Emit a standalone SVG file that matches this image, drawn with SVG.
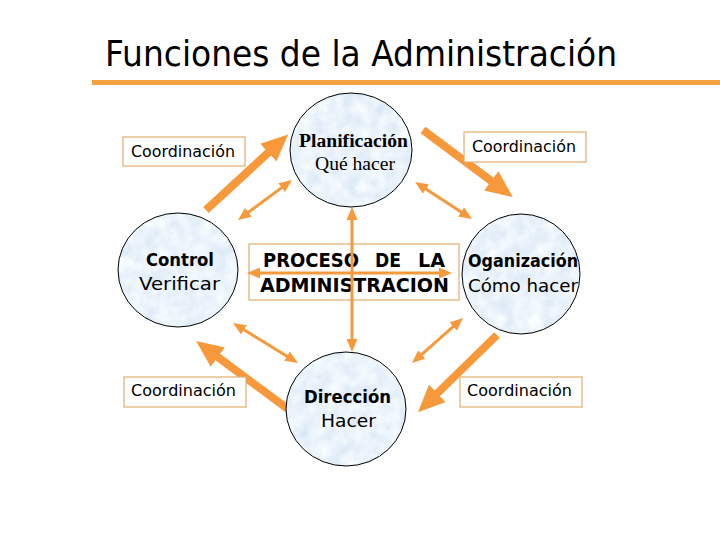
<svg xmlns="http://www.w3.org/2000/svg" width="720" height="540" viewBox="0 0 720 540">
<style>
.c{font-family:"DejaVu Sans","Liberation Sans",sans-serif;fill:#000}
.s{font-family:"Liberation Serif","DejaVu Serif",serif;fill:#000}
.fillc{fill:#D4E5F6;stroke:none;filter:url(#tex)}
.node{fill:none;stroke:#000;stroke-width:1}
.box{fill:#fff;stroke:#E0B070;stroke-width:1.2}
.thick{stroke:#F7993B;stroke-width:8;fill:none}
.thin{stroke:#F7993B;stroke-width:3;fill:none}
</style>
<defs>
<filter id="tex" x="0" y="0" width="1" height="1">
<feTurbulence type="fractalNoise" baseFrequency="0.07" numOctaves="3" seed="4" result="n"/>
<feColorMatrix in="n" type="matrix" values="0.36 0 0 0 0.65  0.28 0 0 0 0.76  0.14 0 0 0 0.895  0 0 0 0 1" result="c"/>
<feComposite in="c" in2="SourceGraphic" operator="in"/>
</filter>
<marker id="hk" markerUnits="userSpaceOnUse" markerWidth="27" markerHeight="24" refX="1" refY="12" orient="auto"><path d="M0,0 L27,12 L0,24 z" fill="#F7993B"/></marker>
<marker id="hn" markerUnits="userSpaceOnUse" markerWidth="13" markerHeight="11" refX="1" refY="5.5" orient="auto-start-reverse"><path d="M0,0 L13,5.5 L0,11 z" fill="#F7993B"/></marker>
</defs>
<rect width="720" height="540" fill="#fff"/>
<g id="title">
<text class="c" x="105" y="66" font-size="36" textLength="512" lengthAdjust="spacingAndGlyphs">Funciones de la Administración</text>
<rect x="92" y="80" width="628" height="5" fill="#F7A040"/>
</g>
<g id="connectors">
<line class="thick" x1="206" y1="210" x2="269" y2="152" marker-end="url(#hk)"/>
<line class="thick" x1="423" y1="130" x2="492" y2="181.5" marker-end="url(#hk)"/>
<line class="thick" x1="497" y1="335" x2="436.6" y2="394" marker-end="url(#hk)"/>
<line class="thick" x1="292" y1="412" x2="217" y2="356.5" marker-end="url(#hk)"/>
<line class="thin" x1="282.4" y1="187.1" x2="247.6" y2="212.9" marker-start="url(#hn)" marker-end="url(#hn)"/>
<line class="thin" x1="425.1" y1="188.5" x2="461.9" y2="212.5" marker-start="url(#hn)" marker-end="url(#hn)"/>
<line class="thin" x1="243.2" y1="329.3" x2="287.8" y2="356.7" marker-start="url(#hn)" marker-end="url(#hn)"/>
<line class="thin" x1="454" y1="325.9" x2="421" y2="355.1" marker-start="url(#hn)" marker-end="url(#hn)"/>
</g>
<g id="proceso">
<rect class="box" x="249" y="244" width="210" height="56"/>
<text class="c" x="263" y="267" font-size="19" font-weight="bold" textLength="96" lengthAdjust="spacingAndGlyphs">PROCESO</text>
<text class="c" x="375" y="267" font-size="19" font-weight="bold" textLength="26" lengthAdjust="spacingAndGlyphs">DE</text>
<text class="c" x="418" y="267" font-size="19" font-weight="bold" textLength="27" lengthAdjust="spacingAndGlyphs">LA</text>
<text class="c" x="260" y="292" font-size="19" font-weight="bold" textLength="189" lengthAdjust="spacingAndGlyphs">ADMINISTRACION</text>
</g>
<g id="connectors-center">
<line class="thin" x1="352" y1="219" x2="352" y2="340" marker-start="url(#hn)" marker-end="url(#hn)"/>
<line class="thin" x1="259" y1="273" x2="440" y2="273" marker-start="url(#hn)" marker-end="url(#hn)"/>
</g>
<g id="planificacion">
<ellipse class="fillc" cx="351" cy="150" rx="61" ry="57"/>
<ellipse class="node" cx="351" cy="150" rx="61" ry="57"/>
<text class="s" x="299" y="147" font-size="18" font-weight="bold" textLength="109" lengthAdjust="spacingAndGlyphs">Planificación</text>
<text class="s" x="315" y="170" font-size="18" textLength="80" lengthAdjust="spacingAndGlyphs">Qué hacer</text>
</g>
<g id="control">
<ellipse class="fillc" cx="178" cy="270" rx="60" ry="57"/>
<ellipse class="node" cx="178" cy="270" rx="60" ry="57"/>
<text class="c" x="146" y="266" font-size="17" font-weight="bold" textLength="68" lengthAdjust="spacingAndGlyphs">Control</text>
<text class="c" x="139" y="290" font-size="17" textLength="81" lengthAdjust="spacingAndGlyphs">Verificar</text>
</g>
<g id="organizacion">
<ellipse class="fillc" cx="521" cy="274" rx="59" ry="60"/>
<ellipse class="node" cx="521" cy="274" rx="59" ry="60"/>
<text class="c" x="468" y="267" font-size="17" font-weight="bold" textLength="110" lengthAdjust="spacingAndGlyphs">Oganización</text>
<text class="c" x="468" y="292" font-size="17" textLength="110" lengthAdjust="spacingAndGlyphs">Cómo hacer</text>
</g>
<g id="direccion">
<ellipse class="fillc" cx="346" cy="409" rx="60" ry="57"/>
<ellipse class="node" cx="346" cy="409" rx="60" ry="57"/>
<text class="c" x="304" y="403" font-size="17" font-weight="bold" textLength="87" lengthAdjust="spacingAndGlyphs">Dirección</text>
<text class="c" x="321" y="427" font-size="17" textLength="55" lengthAdjust="spacingAndGlyphs">Hacer</text>
</g>
<g id="coord-tl">
<rect class="box" x="123" y="137" width="122" height="29"/>
<text class="c" x="131" y="157" font-size="15" textLength="104" lengthAdjust="spacingAndGlyphs">Coordinación</text>
</g>
<g id="coord-tr">
<rect class="box" x="464" y="132" width="122" height="30"/>
<text class="c" x="472" y="152" font-size="15" textLength="104" lengthAdjust="spacingAndGlyphs">Coordinación</text>
</g>
<g id="coord-bl">
<rect class="box" x="124" y="377" width="122" height="30"/>
<text class="c" x="131" y="396" font-size="15" textLength="105" lengthAdjust="spacingAndGlyphs">Coordinación</text>
</g>
<g id="coord-br">
<rect class="box" x="460" y="377" width="122" height="30"/>
<text class="c" x="467" y="396" font-size="15" textLength="105" lengthAdjust="spacingAndGlyphs">Coordinación</text>
</g>
</svg>
